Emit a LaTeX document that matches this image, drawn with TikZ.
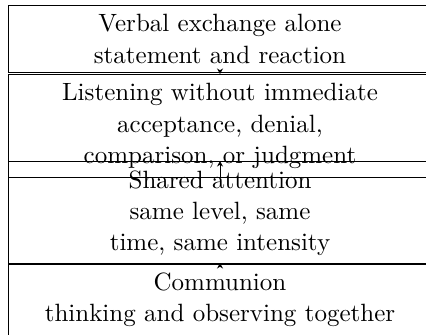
\documentclass[tikz,border=0pt]{standalone}
\usetikzlibrary{arrows.meta}
\begin{document}
\begin{tikzpicture}[
  x=1pt, y=1pt,
  stagebox/.style={draw, line width=0.4pt, text width=162.9pt, align=center,
                   inner xsep=3.33pt, inner ysep=3.6pt, anchor=north,
                   font=\fontsize{10}{12.5}\selectfont},
  link/.style={-{Stealth[length=2.2pt,width=2.4pt]}, line width=0.4pt}
]
  \useasboundingbox (0,0) rectangle (170.4,-133.6);
  \clip (0,0) rectangle (170.4,-133.6);

  % four stages, stacked top to bottom
  \node[stagebox] (verbal)    at (88,-2)     {Verbal exchange alone\\statement and reaction};
  \node[stagebox] (listening) at (88,-29.6)  {Listening without immediate\\acceptance, denial,\\comparison, or judgment};
  \node[stagebox] (shared)    at (88,-64.4)  {Shared attention\\same level, same\\time, same intensity};
  \node[stagebox] (communion) at (88,-105.2) {Communion\\thinking and observing together};

  % links between consecutive stages
  \draw[link] (verbal.south)    -- (listening.north);
  \draw[link] (listening.south) -- (shared.north);
  \draw[link] (shared.south)    -- (communion.north);
\end{tikzpicture}
\end{document}
